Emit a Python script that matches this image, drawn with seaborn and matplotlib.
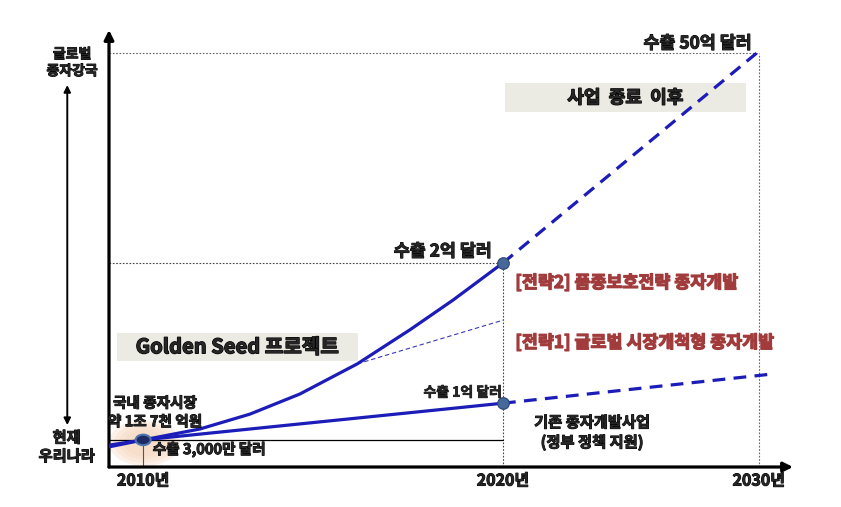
import matplotlib
matplotlib.use("Agg")
import matplotlib.pyplot as plt
import matplotlib.patheffects as pe
import seaborn as sns
import pandas as pd
from matplotlib.patches import Ellipse, Rectangle

sns.set_style("white")
plt.rcParams['font.family'] = ['Noto Sans CJK KR', 'DejaVu Sans']
plt.rcParams['font.weight'] = 'bold'

# conceptual chart: x and y are in relative units (0-100)
year_pos = [5, 57.6, 95]
year_labels = ['2010년', '2020년', '2030년']

# [전략2] growth curve up to 2020, then projection to 2030
s2_x = [0, 5, 13.3, 20.6, 27.9, 36.3, 44.0, 50.3, 57.6]
s2_y = [5.0, 6.2, 8.7, 12.1, 16.7, 23.6, 31.4, 38.2, 46.7]
s2_proj_x = [57.6, 95.6]
s2_proj_y = [46.7, 95.9]

# [전략1] thin branch
s1_x = [36.3, 57.6]
s1_y = [23.6, 33.6]

# existing programme
base_x = [0, 5, 57.6]
base_y = [4.6, 6.2, 14.6]
base_proj_x = [57.6, 97.1]
base_proj_y = [14.6, 21.3]

start_level = 6.2     # 수출 3,000만 달러
level_2020 = 46.7     # 수출 2억 달러
level_2030 = 94.7     # 수출 50억 달러

line_color = '#1c1cb8'
red = '#a23c3c'

fig = plt.figure(figsize=(8.41, 5.07), dpi=100)
ax = fig.add_axes([109 / 841, 40 / 507, 684 / 841, 437 / 507])
ax.set_xlim(0, 100)
ax.set_ylim(0, 100)
for sp in ax.spines.values():
    sp.set_visible(False)

# soft glow around the starting point
for w, h, a in [(10.5, 10.5, 0.35), (9, 9, 0.35), (7.5, 7.5, 0.4), (6, 6, 0.4)]:
    ax.add_patch(Ellipse((5.2, 5.5), w, h, color='#f7d9c2', alpha=a, lw=0, zorder=1))

# reference lines
ax.plot([0, 57.6], [level_2020, level_2020], color='#444444', lw=0.8, ls=(0, (1.5, 1.5)), zorder=2)
ax.plot([0, 95], [level_2030, level_2030], color='#666666', lw=0.8, ls=(0, (1.5, 1.5)), zorder=2)
ax.plot([57.6, 57.6], [0, level_2020], color='#444444', lw=0.8, ls=(0, (1.5, 1.5)), zorder=2)
ax.plot([95, 95], [0, level_2030], color='#666666', lw=0.8, ls=(0, (1.5, 1.5)), zorder=2)
ax.plot([0, 57.6], [start_level, start_level], color='black', lw=0.9, zorder=2)
ax.plot([5, 5], [0, start_level], color='#555555', lw=0.8, zorder=2)

# series
sns.lineplot(x=s2_x, y=s2_y, sort=False, estimator=None, color=line_color, lw=2.3, ax=ax, zorder=4)
sns.lineplot(x=s2_proj_x, y=s2_proj_y, sort=False, estimator=None, color=line_color, lw=2.3,
             ls=(0, (4, 2.6)), ax=ax, zorder=4)
sns.lineplot(x=s1_x, y=s1_y, sort=False, estimator=None, color='#3a3ab0', lw=0.8,
             ls=(0, (4, 2.5)), ax=ax, zorder=3)
sns.lineplot(x=base_x, y=base_y, sort=False, estimator=None, color=line_color, lw=2.3, ax=ax, zorder=4)
sns.lineplot(x=base_proj_x, y=base_proj_y, sort=False, estimator=None, color=line_color, lw=2.3,
             ls=(0, (4, 2.6)), ax=ax, zorder=4)

# markers
ax.add_patch(Ellipse((5, start_level), 2.2, 2.4, facecolor='#1d2a66', edgecolor='#4d74ab', lw=1.5, zorder=5))
pts = pd.DataFrame({'x': [57.6, 57.6], 'y': [level_2020, base_y[-1]]})
sns.scatterplot(data=pts, x='x', y='y', s=70, color='#46689a', edgecolor='#2b4670', lw=0.8, ax=ax, zorder=5)

# axes arrows
arrow = dict(arrowstyle='-|>', lw=2.3, color='black', mutation_scale=14, shrinkA=0, shrinkB=0)
ax.annotate('', xy=(0, 1), xytext=(0, 0), xycoords='axes fraction', arrowprops=arrow)
ax.annotate('', xy=(1, 0), xytext=(0, 0), xycoords='axes fraction', arrowprops=arrow)
ax.annotate('', xy=(-0.061, 0.874), xytext=(-0.061, 0.096), xycoords='axes fraction',
            arrowprops=dict(arrowstyle='<|-|>', lw=1.4, color='black', mutation_scale=10,
                            shrinkA=0, shrinkB=0))


def heavy(color='black', w=0.7):
    return [pe.withStroke(linewidth=w, foreground=color)]


ax.set_xticks(year_pos, year_labels)
ax.set_yticks([])
ax.tick_params(axis='x', length=0, pad=4, labelsize=11.5)
for t in ax.get_xticklabels():
    t.set_path_effects(heavy())
ax.set_xlabel('')
ax.set_ylabel('')

# boxes
ax.add_patch(Rectangle((57.9, 81.2), 35.2, 6.7, facecolor='#ecebe3', lw=0, zorder=1))
ax.add_patch(Rectangle((1.2, 24.3), 35.2, 6.4, facecolor='#ecebe3', lw=0, zorder=1))
ax.text(75.5, 84.5, '사업  종료  이후', ha='center', va='center', fontsize=13,
        path_effects=heavy(w=0.9), zorder=6)
ax.text(18.8, 27.5, 'Golden Seed 프로젝트', ha='center', va='center', fontsize=14.5,
        path_effects=heavy(w=0.9), zorder=6)

# annotations
kw = dict(clip_on=False, zorder=6)
ax.text(-5.4, 92.5, '글로벌\n종자강국', ha='center', va='center', fontsize=10, linespacing=1.25,
        path_effects=heavy(), **kw)
ax.text(-6.2, 4.6, '현재\n우리나라', ha='center', va='center', fontsize=11, linespacing=1.2,
        path_effects=heavy(), **kw)
ax.text(6.7, 12.6, '국내 종자시장\n약 1조 7천 억원', ha='center', va='center', fontsize=10.5,
        linespacing=1.2, path_effects=heavy(), **kw)
ax.text(6.4, 4.0, '수출 3,000만 달러', ha='left', va='center', fontsize=10.5, path_effects=heavy(), **kw)
ax.text(56.0, 49.3, '수출 2억 달러', ha='right', va='center', fontsize=12.5, path_effects=heavy(), **kw)
ax.text(57.4, 17.0, '수출 1억 달러', ha='right', va='center', fontsize=10, path_effects=heavy(w=0.5), **kw)
ax.text(94.0, 96.9, '수출 50억 달러', ha='right', va='center', fontsize=12.5, path_effects=heavy(), **kw)
ax.text(59.4, 42.1, '[전략2] 품종보호전략 종자개발', ha='left', va='center', fontsize=12.5, color=red,
        path_effects=heavy(red, 0.9), **kw)
ax.text(59.4, 28.4, '[전략1] 글로벌 시장개척형 종자개발', ha='left', va='center', fontsize=12.5, color=red,
        path_effects=heavy(red, 0.9), **kw)
ax.text(70.6, 7.9, '기존 종자개발사업\n(정부 정책 지원)', ha='center', va='center', fontsize=11,
        linespacing=1.3, path_effects=heavy(), **kw)

fig.savefig('out.png', dpi=100)
